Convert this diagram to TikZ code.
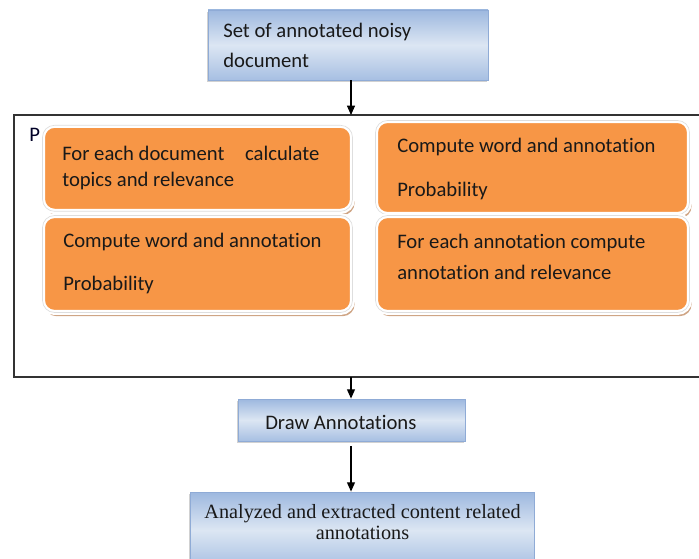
\documentclass[tikz,border=0pt]{standalone}
\usepackage{fontspec}
\setmainfont{Carlito}[Ligatures=NoCommon]
\newfontfamily\serifface{Liberation Serif}
\usetikzlibrary{arrows.meta,shadows}
\definecolor{orng}{HTML}{F79646}
\definecolor{oshadow}{HTML}{CFA585}
\definecolor{bluedark}{HTML}{9DB8DF}
\definecolor{bluelight}{HTML}{DCE6F3}
\definecolor{blueedge}{HTML}{8FABD6}
\tikzset{
  obox/.style={rectangle, rounded corners=9pt, fill=orng, draw=white, line width=3.8pt,
    drop shadow={shadow xshift=1.6pt, shadow yshift=-2.8pt, fill=oshadow, opacity=1},
    postaction={draw=black!13, line width=0.5pt, rounded corners=9pt}},
  bbox/.style={rectangle, draw=blueedge, line width=0.6pt,
    top color=bluedark, bottom color=bluedark!90!white, middle color=bluelight,
    drop shadow={shadow xshift=-1.0pt, shadow yshift=-1.3pt, fill=black!30, opacity=0.6}},
  txt/.style={anchor=west, inner sep=0pt, font=\fontsize{15.5}{18}\selectfont, text=black!90},
  arr/.style={-{Triangle[length=7pt,width=6pt]}, line width=0.8pt, black}
}
\begin{document}
\begin{tikzpicture}[x=0.75pt,y=-0.75pt]
\useasboundingbox (0,0) rectangle (699,559);
\clip (0,0) rectangle (699,559);
% frame
\draw[black!80, line width=0.8pt] (699,115) -- (14,115) -- (14,377) -- (699,377);
\coordinate (ftop) at (351,115);
\coordinate (fbot) at (351,377);
\node[txt, text=black!85!blue] (p) at (29,135) {P};
% top blue box
\node[bbox, minimum width=210pt, minimum height=52.5pt] (tb) at (348,45) {};
\node[txt] (tb1) at (223,32) {Set of annotated noisy};
\node[txt] (tb2) at (223,60) {document};
% orange boxes
\node[obox, minimum width=232.5pt, minimum height=64.5pt] (lt) at (197.5,168.3) {};
\node[obox, minimum width=232.5pt, minimum height=72.7pt] (lb) at (197.5,264) {};
\node[obox, minimum width=235.5pt, minimum height=70.5pt] (rt) at (532.5,167.5) {};
\node[obox, minimum width=235.5pt, minimum height=72.7pt] (rb) at (532.5,264) {};
\node[txt] (lt1) at (62,153) {For each document\hspace{1.0em}calculate};
\node[txt] (lt2) at (62,181) {topics and relevance};
\node[txt] (lb1) at (63,242) {Compute word and annotation};
\node[txt] (lb2) at (63,285) {Probability};
\node[txt] (rt1) at (397,147) {Compute word and annotation};
\node[txt] (rt2) at (397,191) {Probability};
\node[txt] (rb1) at (397,243) {For each annotation compute};
\node[txt] (rb2) at (397,272) {annotation and relevance};
% draw annotations
\node[bbox, minimum width=170.25pt, minimum height=31.5pt] (da) at (351.5,420) {};
\node[txt] (dat) at (265,422) {Draw Annotations};
% bottom box
\node[bbox, minimum width=258pt, minimum height=57pt] (bb) at (362,530) {};
\node[inner sep=0pt, align=center, font=\serifface\fontsize{15.2}{16.2}\selectfont, text=black!90] (bbt) at (362.5,522) {Analyzed and extracted content related\\annotations};
% arrows
\draw[arr] (tb.south -| ftop) -- (ftop);
\draw[arr] (fbot) -- (fbot |- da.north);
\draw[arr, shorten <=3.5pt] (da.south -| fbot) -- (bb.north -| fbot);
\end{tikzpicture}
\end{document}
